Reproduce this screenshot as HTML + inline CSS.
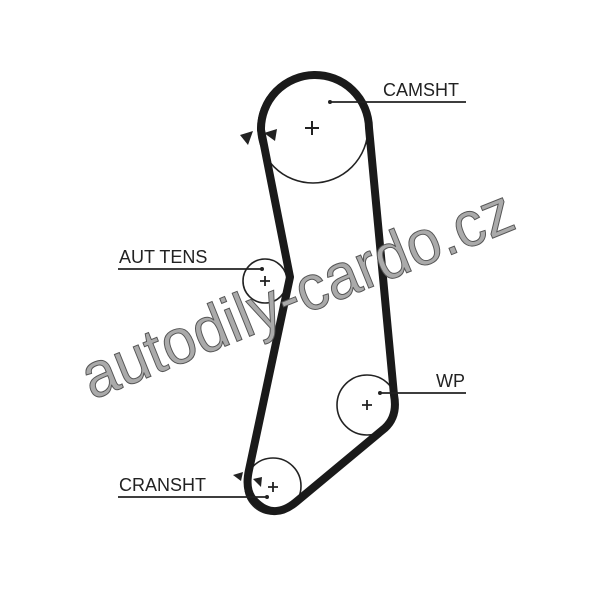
<!DOCTYPE html>
<html><head><style>html,body{margin:0;padding:0;background:#fff}</style></head><body>
<svg width="600" height="589" viewBox="0 0 600 589" xmlns="http://www.w3.org/2000/svg" font-family="Liberation Sans, sans-serif">
<rect width="600" height="589" fill="#fff"/>
<g fill="none" stroke="#222" stroke-width="1.6">
<circle cx="313" cy="128" r="55"/>
<circle cx="265" cy="281" r="22"/>
<circle cx="367" cy="405" r="30"/>
<circle cx="273" cy="486" r="28"/>
</g>
<path d="M261,130 A54,54 0 0 1 369,128 L394,395 Q398,416 385,428 L296,502 Q272,522 252,498 Q245,488 249,470 L290,277 Z" fill="none" stroke="#1a1a1a" stroke-width="8" stroke-linejoin="round"/>
<g stroke="#222" stroke-width="1.8">
<path d="M305,128 h14 M312,121 v14" stroke-width="2"/>
<path d="M260,281 h10 M265,276 v10"/>
<path d="M362,405 h10 M367,400 v10"/>
<path d="M268,487 h10 M273,482 v10"/>
<line x1="330" y1="102" x2="466" y2="102"/>
<line x1="118" y1="269" x2="262" y2="269"/>
<line x1="380" y1="393" x2="466" y2="393"/>
<line x1="118" y1="497" x2="267" y2="497"/>
</g>
<g fill="#222">
<circle cx="330" cy="102" r="2"/><circle cx="262" cy="269" r="2"/><circle cx="380" cy="393" r="2"/><circle cx="267" cy="497" r="2"/>
<polygon points="240,135 253,131 248,145"/>
<polygon points="264,133 277,129 275,141"/>
<polygon points="233,475 243,472 241,481"/>
<polygon points="253,479 262,477 261,487"/>
</g>
<g font-size="18" fill="#222">
<text x="383" y="96">CAMSHT</text>
<text x="119" y="263">AUT  TENS</text>
<text x="436" y="387">WP</text>
<text x="119" y="491">CRANSHT</text>
</g>
<text x="92" y="400" font-size="64" fill="#aaa" stroke="#555" stroke-width="1" textLength="460" lengthAdjust="spacingAndGlyphs" transform="rotate(-22 92 400)">autodily-cardo.cz</text>
</svg>
</body></html>
